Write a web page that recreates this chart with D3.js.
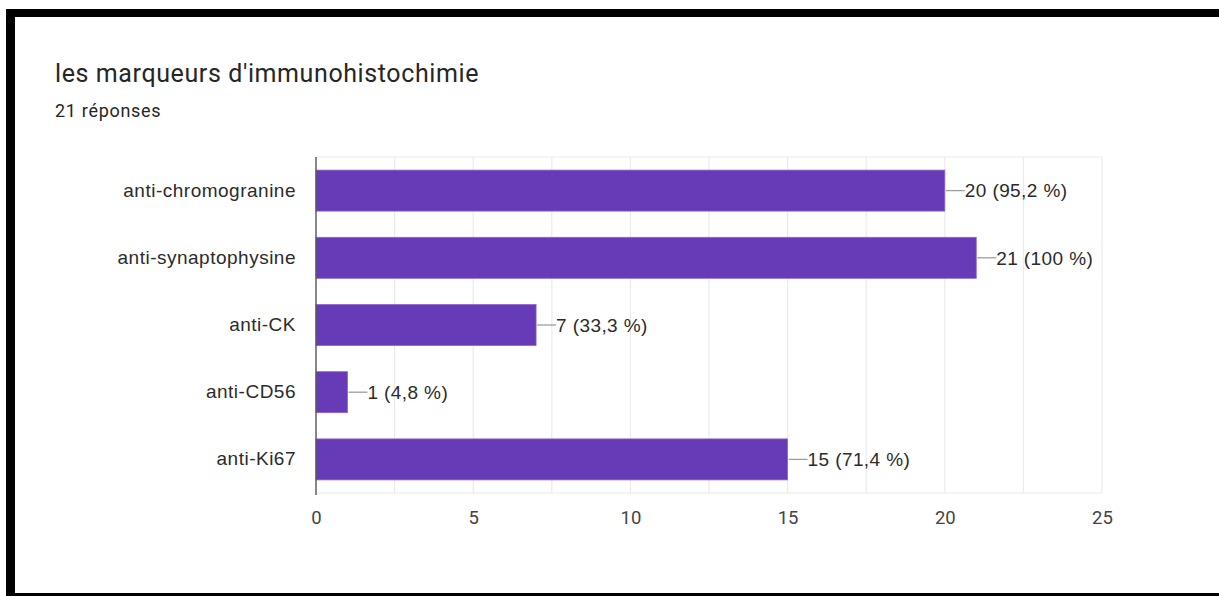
<!DOCTYPE html>
<html>
<head>
<meta charset="utf-8">
<script src="https://cdn.jsdelivr.net/npm/d3@7"></script>
<style>
  html, body { margin: 0; padding: 0; background: #fff; }
  svg { display: block; }
</style>
</head>
<body>
<script>
// Marker categories and response counts
const categories = ["anti-chromogranine", "anti-synaptophysine", "anti-CK", "anti-CD56", "anti-Ki67"];
const counts = [20, 21, 7, 1, 15];
const percentLabels = ["95,2 %", "100 %", "33,3 %", "4,8 %", "71,4 %"];
const tickValues = [0, 5, 10, 15, 20, 25];
const gridValues = [2.5, 5, 7.5, 10, 12.5, 15, 17.5, 20, 22.5, 25];

const W = 1219, H = 596;
const svg = d3.select("body").append("svg").attr("width", W).attr("height", H);

// Frame
svg.append("rect").attr("x", 6).attr("y", 9).attr("width", W - 6).attr("height", 8).attr("fill", "#000");
svg.append("rect").attr("x", 6).attr("y", 9).attr("width", 9).attr("height", H - 9).attr("fill", "#000");
svg.append("rect").attr("x", 6).attr("y", 593).attr("width", W - 6).attr("height", 3).attr("fill", "#000");

// Heading
svg.append("text").attr("x", 55).attr("y", 82)
  .attr("font-family", "Roboto, sans-serif").attr("font-size", 25).attr("letter-spacing", 0.6)
  .attr("fill", "#262626")
  .text("les marqueurs d'immunohistochimie");
svg.append("text").attr("x", 55).attr("y", 117)
  .attr("font-family", "Roboto, sans-serif").attr("font-size", 18).attr("letter-spacing", 0.7)
  .attr("fill", "#262626")
  .text("21 réponses");

const plot = { left: 316, right: 1102, top: 157, bottom: 493 };

const x = d3.scaleLinear().domain([0, 25]).range([plot.left, plot.right]);
const y = d3.scaleBand().domain(categories).range([plot.top, plot.bottom]).paddingInner(0.39).paddingOuter(0.195);

// Grid
const g = svg.append("g");
g.selectAll("line.grid").data(gridValues).join("line")
  .attr("x1", d => x(d)).attr("x2", d => x(d))
  .attr("y1", plot.top).attr("y2", plot.bottom)
  .attr("stroke", "#ebebeb").attr("stroke-width", 1.2);
g.append("line").attr("x1", plot.left).attr("x2", plot.right).attr("y1", plot.top).attr("y2", plot.top)
  .attr("stroke", "#ebebeb").attr("stroke-width", 1.2);
g.append("line").attr("x1", plot.left).attr("x2", plot.right).attr("y1", plot.bottom).attr("y2", plot.bottom)
  .attr("stroke", "#ebebeb").attr("stroke-width", 1.2);

// Bars
const rows = categories.map((c, i) => ({ c, v: counts[i], p: percentLabels[i] }));
svg.selectAll("rect.bar").data(rows).join("rect")
  .attr("class", "bar")
  .attr("x", x(0))
  .attr("y", d => y(d.c))
  .attr("width", d => x(d.v) - x(0))
  .attr("height", y.bandwidth())
  .attr("fill", "#673ab7")
  .attr("stroke", "#8a66cc").attr("stroke-width", 0.8);

// Leader lines and value labels
svg.selectAll("line.lead").data(rows).join("line")
  .attr("x1", d => x(d.v) + 1).attr("x2", d => x(d.v) + 20)
  .attr("y1", d => y(d.c) + y.bandwidth() / 2).attr("y2", d => y(d.c) + y.bandwidth() / 2)
  .attr("stroke", "#9e9e9e").attr("stroke-width", 1.3);
svg.selectAll("text.val").data(rows).join("text")
  .attr("x", d => x(d.v) + 20)
  .attr("y", d => y(d.c) + y.bandwidth() / 2)
  .attr("dy", "0.36em")
  .attr("font-family", "'Liberation Sans', Arial, sans-serif").attr("font-size", 19)
  .attr("letter-spacing", 0.4).attr("fill", "#2b2b2b")
  .text(d => `${d.v} (${d.p})`);

// Category axis
svg.append("g").attr("transform", `translate(${plot.left},0)`)
  .call(d3.axisLeft(y).tickSize(0).tickPadding(20))
  .call(a => a.select(".domain").remove())
  .call(a => a.selectAll("text").attr("font-family", "'Liberation Sans', Arial, sans-serif")
    .attr("font-size", 19).attr("letter-spacing", 0.5).attr("fill", "#2b2b2b"));

svg.append("line").attr("x1", plot.left).attr("x2", plot.left)
  .attr("y1", plot.top).attr("y2", plot.bottom + 2)
  .attr("stroke", "#555").attr("stroke-width", 1.4);

// Value axis
svg.append("g").attr("transform", `translate(0,${plot.bottom})`)
  .call(d3.axisBottom(x).tickValues(tickValues).tickSize(0).tickPadding(18))
  .call(a => a.select(".domain").remove())
  .call(a => a.selectAll("text").attr("font-family", "Roboto, sans-serif")
    .attr("font-size", 18.5).attr("fill", "#444"));
</script>
</body>
</html>
